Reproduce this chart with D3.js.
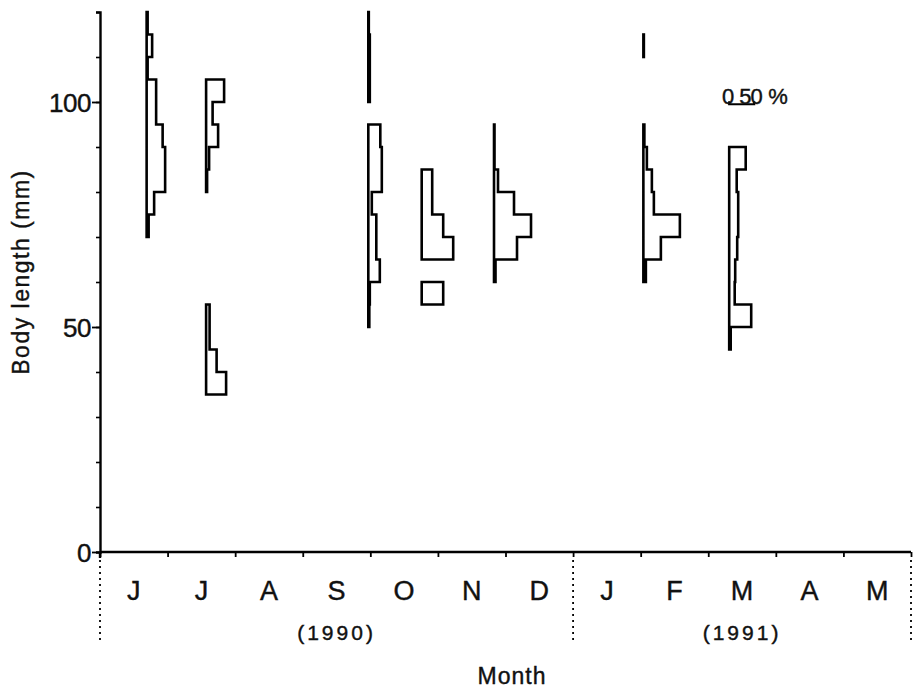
<!DOCTYPE html>
<html>
<head>
<meta charset="utf-8">
<script src="https://cdn.jsdelivr.net/npm/d3@7"></script>
<style>
  body { margin: 0; background: #fff; }
  text { font-family: "Liberation Sans", Arial, sans-serif; fill: #111;
         stroke: #111; stroke-width: 0.4px; }
</style>
</head>
<body>
<script>
// months on the x axis, June 1990 .. May 1991
var months = ["J", "J", "A", "S", "O", "N", "D", "J", "F", "M", "A", "M"];
var years = ["(1990)", "(1991)"];
var yearStart = [0, 7, 12];

// sampling dates, in months since 1 June 1990
var sampleNames = ["Jun 1990", "Jul 1990", "Sep 1990", "Oct 1990",
                   "Nov 1990", "Feb 1991", "Mar 1991"];
var sampleMonth = [0.69, 1.57, 3.97, 4.76, 5.83, 8.04, 9.31];

// length classes: [lower bound (mm), frequency (%)], 5 mm classes
var binsJun = [[70, 4], [75, 15], [80, 37], [85, 37], [90, 32], [95, 19],
               [100, 19], [105, 2], [110, 11], [115, 2]];
var binsJul = [[35, 40], [40, 21], [45, 7], [50, 7],
               [80, 2], [85, 6], [90, 24], [95, 13], [100, 36]];
var binsSep = [[50, 2], [55, 3], [60, 23], [65, 16], [70, 16], [75, 7],
               [80, 27], [85, 27], [90, 24],
               [100, 3], [105, 3], [110, 3], [115, 1]];
var binsOct = [[55, 43], [65, 63], [70, 43], [75, 21], [80, 21]];
var binsNov = [[60, 3], [65, 46], [70, 74], [75, 40], [80, 8], [85, 1],
               [90, 1]];
var binsFeb = [[60, 5], [65, 35], [70, 73], [75, 21], [80, 17], [85, 7],
               [90, 2], [110, 1]];
var binsMar = [[45, 3], [50, 44], [55, 11], [60, 12], [65, 16], [70, 18],
               [75, 18], [80, 15], [85, 33]];
var sampleBins = [binsJun, binsJul, binsSep, binsOct, binsNov, binsFeb, binsMar];
var classWidth = 5;

// scale bar for the frequency
var barPercent = 50;
var barLength = 99.5;   // mm level of the bar
var barMonth = 9.31;

var W = 913, H = 688;
var svg = d3.select("body").append("svg")
    .attr("width", W)
    .attr("height", H);

var x = d3.scaleLinear().domain([0, 12]).range([100, 911]);
var y = d3.scaleLinear().domain([0, 120]).range([552, 12]);
var w = d3.scaleLinear().domain([0, 50]).range([0, 25]);

// y axis: minor ticks every 10 mm, labels at 0/50/100
svg.append("g")
    .attr("transform", "translate(100,0)")
    .call(d3.axisLeft(y).tickValues(d3.range(10, 121, 10)).tickSize(4)
        .tickFormat(""))
    .call(function(g) {
        g.select(".domain").attr("stroke-width", 2.4);
        g.selectAll("line").attr("stroke-width", 1.6);
    });

svg.append("g")
    .attr("transform", "translate(100,0)")
    .call(d3.axisLeft(y).tickValues([0, 50, 100]).tickSize(8).tickPadding(1))
    .call(function(g) {
        g.select(".domain").remove();
        g.selectAll("line").attr("stroke-width", 1.8);
        g.selectAll("text")
            .attr("fill", "#111")
            .attr("dy", "0.36em")
            .style("font-size", "26px")
            .style("letter-spacing", "-0.5px");
    });

// extend y axis a bit below zero
svg.append("line")
    .attr("x1", x(0)).attr("x2", x(0))
    .attr("y1", y(0)).attr("y2", y(0) + 6)
    .attr("stroke", "#000").attr("stroke-width", 2.4);

// x axis with month boundaries
svg.append("g")
    .attr("transform", "translate(0," + y(0) + ")")
    .call(d3.axisBottom(x).tickValues(d3.range(0, 13)).tickSize(5)
        .tickFormat(""))
    .call(function(g) {
        g.select(".domain").attr("stroke-width", 2.4).attr("d",
            "M" + x(0) + ",0H" + x(12));
        g.selectAll("line").attr("stroke-width", 1.8);
    });

svg.selectAll(".month")
    .data(months)
    .enter()
    .append("text")
    .attr("class", "month")
    .attr("x", function(d, i) { return x(i + 0.5); })
    .attr("y", 600)
    .attr("text-anchor", "middle")
    .style("font-size", "27px")
    .text(function(d) { return d; });

// year dividers
svg.selectAll(".divider")
    .data(yearStart)
    .enter()
    .append("line")
    .attr("class", "divider")
    .attr("x1", function(d) { return x(d); })
    .attr("x2", function(d) { return x(d); })
    .attr("y1", 560)
    .attr("y2", 642)
    .attr("stroke", "#000")
    .attr("stroke-width", 1.8)
    .attr("stroke-dasharray", "2,4");

svg.selectAll(".year")
    .data(years)
    .enter()
    .append("text")
    .attr("class", "year")
    .attr("x", function(d, i) {
        return (x(yearStart[i]) + x(yearStart[i + 1])) / 2;
    })
    .attr("y", 640)
    .attr("text-anchor", "middle")
    .style("font-size", "21px")
    .style("letter-spacing", "3px")
    .text(function(d) { return d; });

svg.append("text")
    .attr("x", 512)
    .attr("y", 684)
    .attr("text-anchor", "middle")
    .style("font-size", "23px")
    .style("letter-spacing", "1px")
    .text("Month");

svg.append("text")
    .attr("transform", "translate(29,272) rotate(-90)")
    .attr("text-anchor", "middle")
    .style("font-size", "23px")
    .style("letter-spacing", "1.5px")
    .text("Body length (mm)");

// split a sample's classes into runs of adjacent classes
function runsOf(bins) {
    var runs = [], cur = [];
    bins.forEach(function(b, i) {
        if (i > 0 && b[0] - bins[i - 1][0] > classWidth) {
            runs.push(cur);
            cur = [];
        }
        cur.push(b);
    });
    runs.push(cur);
    return runs;
}

var line = d3.line();

sampleBins.forEach(function(bins, s) {
    var x0 = x(sampleMonth[s]);
    runsOf(bins).forEach(function(run) {
        var pts = [[x0, y(run[0][0])]];
        run.forEach(function(b) {
            pts.push([x0 + w(b[1]), y(b[0])]);
            pts.push([x0 + w(b[1]), y(b[0] + classWidth)]);
        });
        pts.push([x0, y(run[run.length - 1][0] + classWidth)]);
        svg.append("path")
            .attr("d", line(pts) + "Z")
            .attr("fill", "#fff")
            .attr("stroke", "#000")
            .attr("stroke-width", 2.6)
            .attr("stroke-linejoin", "miter")
            .append("title").text(sampleNames[s]);
    });
});

// frequency scale bar
var bx = x(barMonth), by = y(barLength);
svg.append("path")
    .attr("d", "M" + bx + "," + (by - 3) + "V" + by + "H" + (bx + w(barPercent)) +
        "V" + (by - 3))
    .attr("fill", "none")
    .attr("stroke", "#000")
    .attr("stroke-width", 2.2);

svg.append("text")
    .attr("x", bx - 1)
    .attr("y", by)
    .attr("text-anchor", "middle")
    .style("font-size", "22px")
    .text("0");

svg.append("text")
    .attr("x", bx + 10)
    .attr("y", by)
    .attr("text-anchor", "start")
    .style("font-size", "22px")
    .style("letter-spacing", "-1px")
    .text("50");

svg.append("text")
    .attr("x", bx + 39)
    .attr("y", by)
    .attr("text-anchor", "start")
    .style("font-size", "22px")
    .text("%");
</script>
</body>
</html>
